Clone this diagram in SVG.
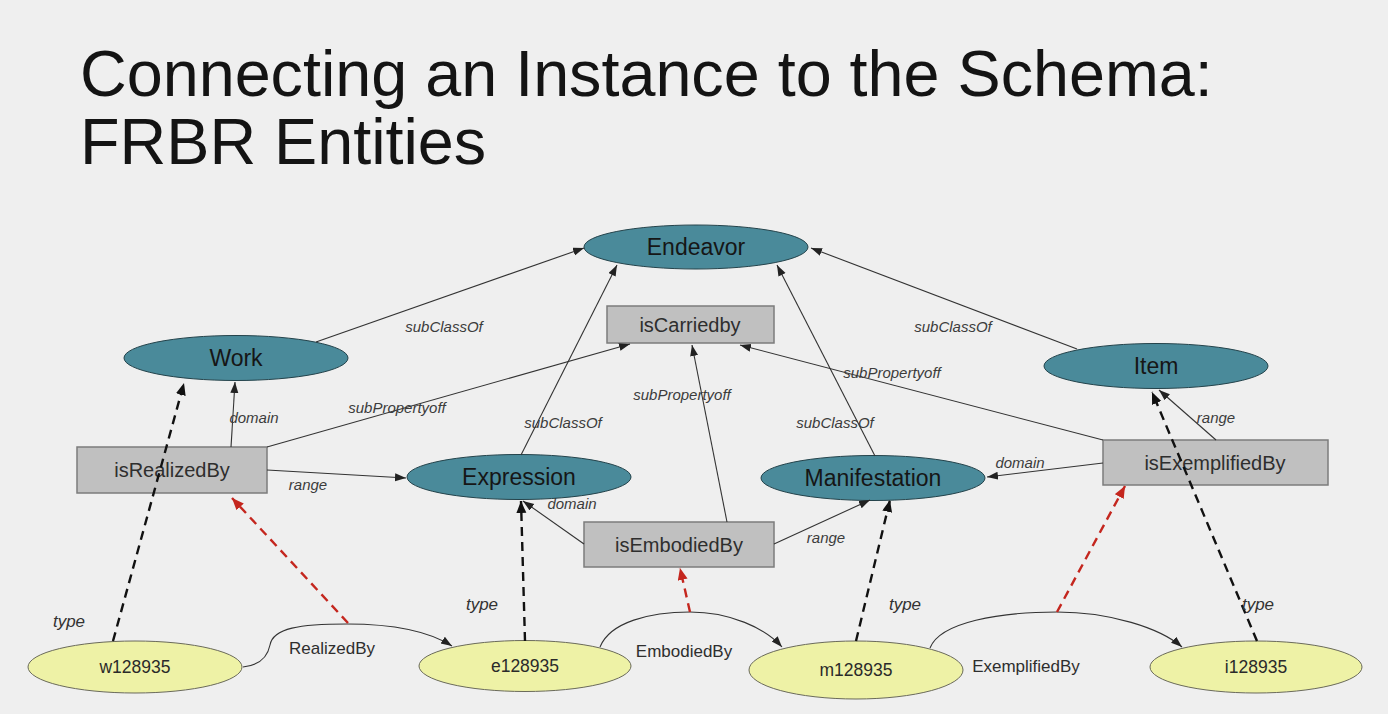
<svg xmlns="http://www.w3.org/2000/svg" width="1388" height="714" viewBox="0 0 1388 714">
  <defs>
    <style>
      .title { font-family: "Liberation Sans", Arial, sans-serif; font-size: 64.7px; fill: #141414; }
      .cls ellipse { fill: #4a8a9a; stroke: #24434b; stroke-width: 1; }
      .cls text { font-family: "Liberation Sans", Arial, sans-serif; font-size: 23px; fill: #161616; text-anchor: middle; }
      .prop rect { fill: #c0c0c0; stroke: #7c7c7c; stroke-width: 1.5; }
      .prop text { font-family: "Liberation Sans", Arial, sans-serif; font-size: 20px; fill: #2e2e2e; text-anchor: middle; }
      .inst ellipse { fill: #eef2a6; stroke: #6a6a5a; stroke-width: 1; }
      .inst text { font-family: "Liberation Sans", Arial, sans-serif; font-size: 17.5px; fill: #2a2a2a; text-anchor: middle; }
      .solid { fill: none; stroke: #333; stroke-width: 1.1; marker-end: url(#ah); }
      .type { fill: none; stroke: #111; stroke-width: 2.4; stroke-dasharray: 9 6; marker-end: url(#ahb); }
      .red { fill: none; stroke: #c4261e; stroke-width: 2.4; stroke-dasharray: 9 6; marker-end: url(#ahr); }
      .lbl { font-family: "Liberation Sans", Arial, sans-serif; font-size: 15px; font-style: italic; fill: #3c3c3c; text-anchor: middle; }
      .tlbl { font-family: "Liberation Sans", Arial, sans-serif; font-size: 17px; font-style: italic; fill: #333; text-anchor: middle; }
      .ilbl { font-family: "Liberation Sans", Arial, sans-serif; font-size: 17px; fill: #2e2e2e; text-anchor: middle; }
    </style>
    <marker id="ah" markerUnits="userSpaceOnUse" markerWidth="12" markerHeight="10" refX="11" refY="4" orient="auto">
      <path d="M0,0 L11,4 L0,8 z" fill="#222"/>
    </marker>
    <marker id="ahb" markerUnits="userSpaceOnUse" markerWidth="14" markerHeight="12" refX="12" refY="5" orient="auto">
      <path d="M0,0 L12,5 L0,10 z" fill="#111"/>
    </marker>
    <marker id="ahr" markerUnits="userSpaceOnUse" markerWidth="14" markerHeight="12" refX="12" refY="5" orient="auto">
      <path d="M0,0 L12,5 L0,10 z" fill="#c4261e"/>
    </marker>
  </defs>

  <rect x="0" y="0" width="1388" height="714" fill="#efefef"/>

  <text class="title" x="80" y="96">Connecting an Instance to the Schema:</text>
  <text class="title" x="80" y="164">FRBR Entities</text>

  <!-- classes -->
  <g id="endeavor" class="cls">
    <ellipse cx="696" cy="247" rx="112" ry="22"/>
    <text x="696" y="255">Endeavor</text>
  </g>
  <g id="work" class="cls">
    <ellipse cx="236" cy="358" rx="112" ry="22.5"/>
    <text x="236" y="366">Work</text>
  </g>
  <g id="item" class="cls">
    <ellipse cx="1156" cy="366" rx="112" ry="22.5"/>
    <text x="1156" y="374">Item</text>
  </g>
  <g id="expression" class="cls">
    <ellipse cx="519" cy="477" rx="112" ry="22.5"/>
    <text x="519" y="485">Expression</text>
  </g>
  <g id="manifestation" class="cls">
    <ellipse cx="873" cy="478" rx="112" ry="22.5"/>
    <text x="873" y="486">Manifestation</text>
  </g>

  <!-- properties -->
  <g id="isCarriedby" class="prop">
    <rect x="607" y="306" width="167" height="37"/>
    <text x="690" y="332">isCarriedby</text>
  </g>
  <g id="isRealizedBy" class="prop">
    <rect x="77" y="447" width="190" height="46"/>
    <text x="172" y="477">isRealizedBy</text>
  </g>
  <g id="isEmbodiedBy" class="prop">
    <rect x="584" y="522" width="190" height="45"/>
    <text x="679" y="552">isEmbodiedBy</text>
  </g>
  <g id="isExemplifiedBy" class="prop">
    <rect x="1103" y="440" width="225" height="45"/>
    <text x="1215" y="470">isExemplifiedBy</text>
  </g>

  <!-- instances -->
  <g id="w128935" class="inst">
    <ellipse cx="135" cy="667" rx="107" ry="26"/>
    <text x="135" y="673">w128935</text>
  </g>
  <g id="e128935" class="inst">
    <ellipse cx="525" cy="666" rx="106" ry="25.5"/>
    <text x="525" y="672">e128935</text>
  </g>
  <g id="m128935" class="inst">
    <ellipse cx="856" cy="670" rx="107" ry="29"/>
    <text x="856" y="676">m128935</text>
  </g>
  <g id="i128935" class="inst">
    <ellipse cx="1256" cy="667" rx="106" ry="26"/>
    <text x="1256" y="673">i128935</text>
  </g>

  <!-- connectors (drawn over the nodes: the type links cross the property boxes) -->
  <g id="connectors">
    <!-- subclass links to Endeavor -->
    <line class="solid" x1="316" y1="342" x2="584" y2="248"/>
    <line class="solid" x1="521" y1="455" x2="617" y2="265"/>
    <line class="solid" x1="875" y1="456" x2="777" y2="265"/>
    <line class="solid" x1="1077" y1="349" x2="811" y2="248"/>
    <!-- subproperty links to isCarriedby -->
    <line class="solid" x1="267" y1="447" x2="630" y2="344"/>
    <line class="solid" x1="727" y1="522" x2="692" y2="345"/>
    <line class="solid" x1="1103" y1="440" x2="740" y2="345"/>
    <!-- domain / range -->
    <line class="solid" x1="231" y1="447" x2="235" y2="382"/>
    <line class="solid" x1="267" y1="470" x2="406" y2="478"/>
    <line class="solid" x1="584" y1="544" x2="523" y2="501"/>
    <line class="solid" x1="774" y1="544" x2="870" y2="500"/>
    <line class="solid" x1="1103" y1="463" x2="987" y2="477"/>
    <line class="solid" x1="1216" y1="440" x2="1159" y2="390"/>
    <!-- rdf:type links -->
    <line class="type" x1="113" y1="641" x2="184" y2="383"/>
    <line class="type" x1="525" y1="641" x2="521" y2="501"/>
    <line class="type" x1="856" y1="641" x2="890" y2="500"/>
    <line class="type" x1="1257" y1="641" x2="1152" y2="392"/>
    <!-- instance-level relations -->
    <path class="solid" d="M243,667 C262,665 268,655 270,645 C273,628 300,624 347,624 C395,624 430,632 452,646"/>
    <path class="solid" d="M600,647 C610,622 650,612 690,612 C730,612 765,628 782,647"/>
    <path class="solid" d="M930,648 C940,622 1000,612 1057,612 C1110,612 1160,628 1182,647"/>
    <!-- statements typed by properties -->
    <line class="red" x1="348" y1="623" x2="232" y2="498"/>
    <line class="red" x1="690" y1="612" x2="680" y2="568"/>
    <line class="red" x1="1057" y1="612" x2="1125" y2="486"/>

    <text class="lbl" x="444" y="332">subClassOf</text>
    <text class="lbl" x="563" y="428">subClassOf</text>
    <text class="lbl" x="835" y="428">subClassOf</text>
    <text class="lbl" x="953" y="332">subClassOf</text>
    <text class="lbl" x="397" y="413">subPropertyoff</text>
    <text class="lbl" x="682" y="400">subPropertyoff</text>
    <text class="lbl" x="892" y="378">subPropertyoff</text>
    <text class="lbl" x="254" y="423">domain</text>
    <text class="lbl" x="308" y="490">range</text>
    <text class="lbl" x="572" y="509">domain</text>
    <text class="lbl" x="826" y="543">range</text>
    <text class="lbl" x="1020" y="468">domain</text>
    <text class="lbl" x="1216" y="423">range</text>
    <text class="tlbl" x="69" y="627">type</text>
    <text class="tlbl" x="482" y="610">type</text>
    <text class="tlbl" x="905" y="610">type</text>
    <text class="tlbl" x="1258" y="610">type</text>
    <text class="ilbl" x="332" y="654">RealizedBy</text>
    <text class="ilbl" x="684" y="657">EmbodiedBy</text>
    <text class="ilbl" x="1026" y="672">ExemplifiedBy</text>
  </g>
</svg>
